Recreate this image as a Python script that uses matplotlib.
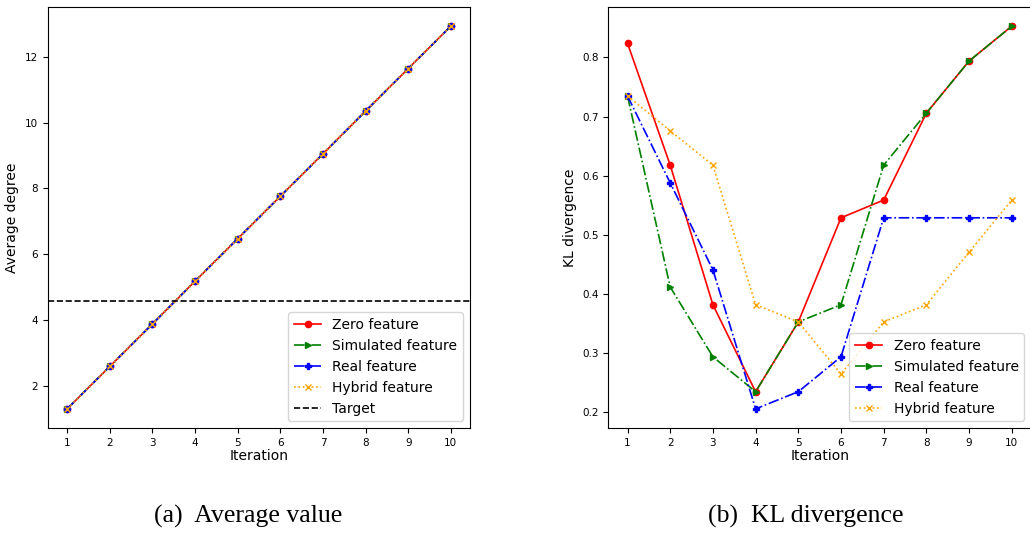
import matplotlib
matplotlib.use("Agg")
import matplotlib.pyplot as plt

iterations = [1, 2, 3, 4, 5, 6, 7, 8, 9, 10]

avg_zero = [1.30, 2.59, 3.88, 5.18, 6.47, 7.76, 9.05, 10.35, 11.64, 12.93]
avg_sim = [1.30, 2.59, 3.88, 5.18, 6.47, 7.76, 9.05, 10.35, 11.64, 12.93]
avg_real = [1.30, 2.59, 3.88, 5.18, 6.47, 7.76, 9.05, 10.35, 11.64, 12.93]
avg_hybrid = [1.30, 2.59, 3.88, 5.18, 6.47, 7.76, 9.05, 10.35, 11.64, 12.93]
avg_target = 4.59

kl_zero = [0.824, 0.618, 0.382, 0.235, 0.353, 0.529, 0.559, 0.706, 0.794, 0.853]
kl_sim = [0.735, 0.412, 0.294, 0.235, 0.353, 0.382, 0.618, 0.706, 0.794, 0.853]
kl_real = [0.735, 0.588, 0.441, 0.206, 0.235, 0.294, 0.529, 0.529, 0.529, 0.529]
kl_hybrid = [0.735, 0.676, 0.618, 0.382, 0.353, 0.265, 0.353, 0.382, 0.471, 0.559]

labels = ["Zero feature", "Simulated feature", "Real feature", "Hybrid feature"]
captions = ["(a)  Average value", "(b)  KL divergence"]

W, H = 1030, 535
fig = plt.figure(figsize=(W / 100, H / 100), dpi=100)

ax1 = fig.add_axes([48 / W, (H - 428) / H, 422 / W, 421 / H])
ax2 = fig.add_axes([608.3 / W, (H - 428) / H, 422.7 / W, 421 / H])

styles = [
    dict(color="red", linestyle="-", marker="o"),
    dict(color="green", linestyle="-.", marker=">"),
    dict(color="blue", linestyle="-.", marker="P"),
    dict(color="orange", linestyle=":", marker="x"),
]

lw = 1.2
ms = 4.5

for ax, series in [(ax1, [avg_zero, avg_sim, avg_real, avg_hybrid]),
                   (ax2, [kl_zero, kl_sim, kl_real, kl_hybrid])]:
    for vals, lab, st in zip(series, labels, styles):
        ax.plot(iterations, vals, label=lab, linewidth=lw, markersize=ms, **st)
    ax.set_xticks(iterations)
    ax.tick_params(labelsize=7.5)
    ax.set_xlabel("Iteration", fontsize=10, labelpad=1)

ax1.axhline(avg_target, color="black", linestyle="--", linewidth=lw, label="Target")
ax1.set_ylabel("Average degree", fontsize=10)
ax2.set_ylabel("KL divergence", fontsize=10)

ax1.legend(loc="lower right", fontsize=10)
ax2.legend(loc="lower right", fontsize=10)

fig.text(247.7 / W, 1 - 523 / H, captions[0], family="Liberation Serif",
         fontsize=18.5, ha="center", va="baseline")
fig.text(805.5 / W, 1 - 523 / H, captions[1], family="Liberation Serif",
         fontsize=18.5, ha="center", va="baseline")

fig.savefig("out.png", dpi=100)
